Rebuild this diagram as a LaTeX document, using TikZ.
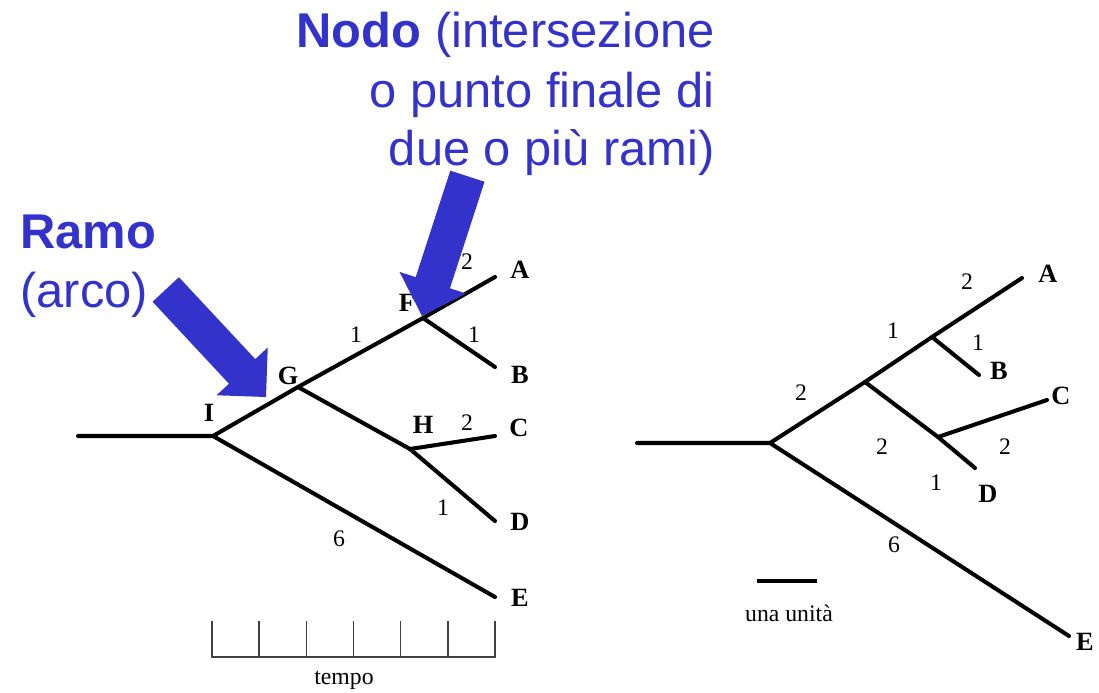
\documentclass[tikz,border=0pt]{standalone}
\usepackage{fontspec}
\setmainfont{Liberation Serif}
\newfontfamily\arialfont{Liberation Sans}
\usepackage{xcolor}
\usepackage{tikz}
\usetikzlibrary{positioning}

\definecolor{nodoblu}{RGB}{51,51,204}
\tikzset{
  ramo/.style={line width=2.3pt, line cap=round},
  taxon/.style={font=\bfseries\fontsize{15}{15}\selectfont, inner sep=0pt},
  lung/.style={font=\fontsize{13.5}{13.5}\selectfont, inner sep=0pt},
  scritta/.style={text=nodoblu, font=\arialfont\fontsize{27.8}{27.8}\selectfont, inner sep=0pt},
  righello/.style={line width=0.85pt, black!75},
}

\begin{document}
\begin{tikzpicture}[x=0.02cm, y=-0.02cm]
  \useasboundingbox (0,0) rectangle (1099,693);
  % 左边的树
  \coordinate (r1) at (78,436);
  \coordinate (I) at (213,436);
  \coordinate (G) at (298,387);
  \coordinate (F) at (423,318);
  \coordinate (H) at (410,449);
  \coordinate (A1) at (495,277);
  \coordinate (B1) at (495,367);
  \coordinate (C1) at (495,436);
  \coordinate (D1) at (495,521);
  \coordinate (E1) at (495,597);
  \draw[ramo] (r1) -- (I) -- (E1);
  \draw[ramo] (I) -- (G) -- (F) -- (A1);
  \draw[ramo] (F) -- (B1);
  \draw[ramo] (G) -- (H) -- (D1);
  \draw[ramo] (H) -- (C1);
  \node[taxon] (lI) at (209,413) {I};
  \node[taxon] (lG) at (288,376) {G};
  \node[taxon] (lF) at (407,303) {F};
  \node[taxon] (lH) at (423,425) {H};
  \foreach \t/\x/\y in {A/520/270, B/520/375, C/519/428, D/520/522, E/520/598}
    \node[taxon] (l\t1) at (\x,\y) {\t};
  \foreach \v/\x/\y [count=\i] in {2/467/262, 1/356/335, 1/474/335, 2/467/423, 1/443/508, 6/339/539}
    \node[lung] (n\i) at (\x,\y) {\v};
  % 时间尺
  \draw[righello] (212,621) -- (212,657) -- (495,657) -- (495,621);
  \foreach \i in {1,...,5}
    \draw[righello] ({212+\i*47.17},621) -- ({212+\i*47.17},657);
  \node[lung] (tempo) at (344,680) {tempo};
  % 右边的树
  \coordinate (r2) at (637,443);
  \coordinate (I2) at (770,443);
  \coordinate (G2) at (865,382);
  \coordinate (F2) at (932,337);
  \coordinate (H2) at (938,437);
  \coordinate (A2) at (1022,278);
  \coordinate (B2) at (979,375);
  \coordinate (C2) at (1047,400);
  \coordinate (D2) at (975,468);
  \coordinate (E2) at (1069,636);
  \draw[ramo] (r2) -- (I2) -- (E2);
  \draw[ramo] (I2) -- (G2) -- (F2) -- (A2);
  \draw[ramo] (F2) -- (B2);
  \draw[ramo] (G2) -- (H2) -- (D2);
  \draw[ramo] (H2) -- (C2);
  \foreach \t/\x/\y in {A/1048/274, B/999/371, C/1061/396, D/988/494, E/1085/642}
    \node[taxon] (l\t2) at (\x,\y) {\t};
  \foreach \v/\x/\y [count=\i] in {2/967/282, 1/893/331, 1/978/343, 2/801/393, 2/1005/447, 2/882/447, 1/936/483, 6/894/545}
    \node[lung] (m\i) at (\x,\y) {\v};
  % 单位
  \coordinate (u1) at (757,581);
  \coordinate (u2) at (817,581);
  \draw[ramo, line cap=butt] (u1) -- (u2);
  \node[lung] (unita) at (789,613) {una unità};
  % 蓝色的字
  \node[scritta, anchor=base east] (nodo1) at (715,48) {\textbf{Nodo} (intersezione};
  \node[scritta, anchor=base east] (nodo2) at (715,107) {o punto finale di};
  \node[scritta, anchor=base east] (nodo3) at (715,165) {due o più rami)};
  \node[scritta, anchor=base west] (ramo1) at (20,248) {\textbf{Ramo}};
  \node[scritta, anchor=base west] (ramo2) at (20,307) {(arco)};
  % 箭头
  \foreach \p/\a in {{266,397}/-47, {422,316}/-108}
    \fill[nodoblu, shift={(\p)}, rotate=\a] (0,0) -- (-35,35) -- (-35,18) -- (-147,18)
      -- (-147,-18) -- (-35,-18) -- (-35,-35) -- cycle;
\end{tikzpicture}
\end{document}
